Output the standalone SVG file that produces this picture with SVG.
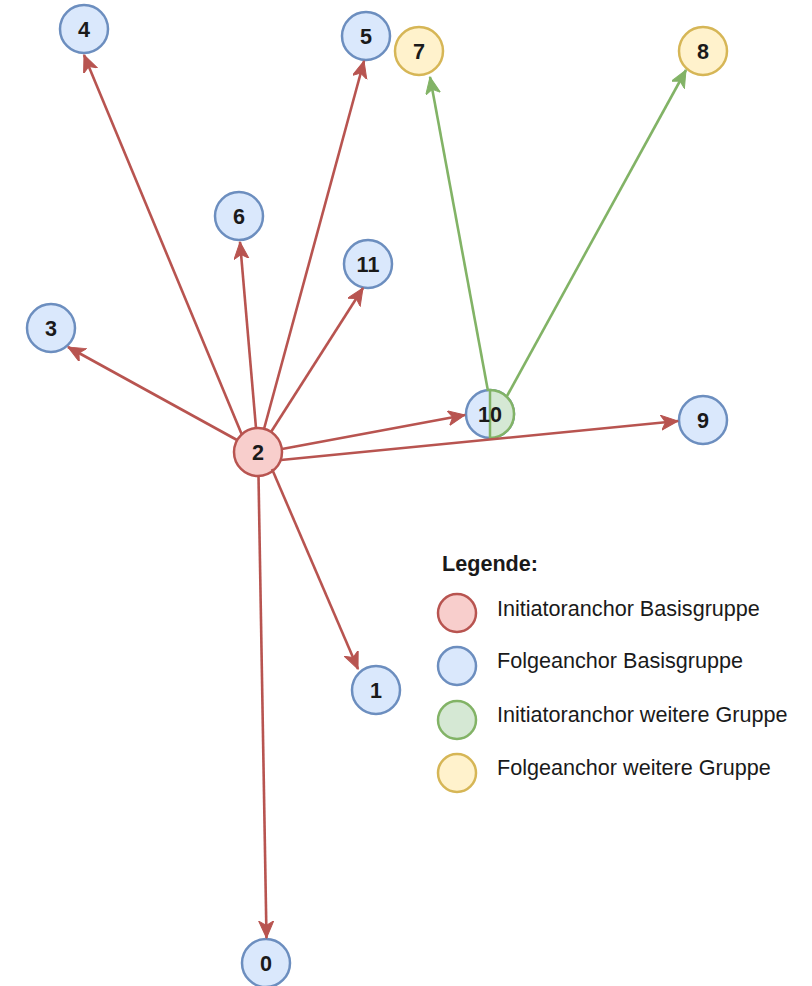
<svg xmlns="http://www.w3.org/2000/svg" width="812" height="986" viewBox="0 0 812 986">
  <style>
    .lbl { font-family: "Liberation Sans", Arial, sans-serif; font-size: 21.6px; font-weight: bold; fill: #1a1a1a; text-anchor: middle; }
    .leg { font-family: "Liberation Sans", Arial, sans-serif; font-size: 21.6px; fill: #1a1a1a; }
    .legh { font-family: "Liberation Sans", Arial, sans-serif; font-size: 21.6px; font-weight: bold; fill: #1a1a1a; }
    .red { fill: #f8cecc; stroke: #b85450; stroke-width: 2.5; }
    .blue { fill: #dae8fc; stroke: #6c8ebf; stroke-width: 2.5; }
    .green { fill: #d5e8d4; stroke: #82b366; stroke-width: 2.5; }
    .yellow { fill: #fff2cc; stroke: #d6b656; stroke-width: 2.5; }
    .e-red { stroke: #b85450; stroke-width: 2.6; fill: none; marker-end: url(#arrRed); }
    .e-green { stroke: #82b366; stroke-width: 2.6; fill: none; marker-end: url(#arrGreen); }
  </style>
  <defs>
    <marker id="arrRed" markerUnits="userSpaceOnUse" markerWidth="18" markerHeight="16" refX="17" refY="7.5" orient="auto">
      <path d="M0,0 L17,7.5 L0,15 L4.5,7.5 Z" fill="#b85450" stroke="#b85450" stroke-width="1"/>
    </marker>
    <marker id="arrGreen" markerUnits="userSpaceOnUse" markerWidth="18" markerHeight="16" refX="17" refY="7.5" orient="auto">
      <path d="M0,0 L17,7.5 L0,15 L4.5,7.5 Z" fill="#82b366" stroke="#82b366" stroke-width="1"/>
    </marker>
  </defs>
  <rect width="812" height="986" fill="#ffffff"/>

  <!-- nodes -->
  <g id="node-4"><circle class="blue" cx="84" cy="29" r="24"/><text class="lbl" x="84" y="37">4</text></g>
  <g id="node-5"><circle class="blue" cx="366" cy="36" r="24"/><text class="lbl" x="366" y="44">5</text></g>
  <g id="node-7"><circle class="yellow" cx="419" cy="51" r="24"/><text class="lbl" x="419" y="59">7</text></g>
  <g id="node-8"><circle class="yellow" cx="703" cy="51" r="24"/><text class="lbl" x="703" y="59">8</text></g>
  <g id="node-6"><circle class="blue" cx="239" cy="216" r="24"/><text class="lbl" x="239" y="224">6</text></g>
  <g id="node-11"><circle class="blue" cx="368" cy="264" r="24"/><text class="lbl" x="368" y="272">11</text></g>
  <g id="node-3"><circle class="blue" cx="51" cy="328" r="24"/><text class="lbl" x="51" y="336">3</text></g>
  <g id="node-10">
    <circle class="blue" cx="490" cy="414" r="24"/>
    <path class="green" d="M490,390 A24,24 0 0 1 490,438 Z"/>
    <text class="lbl" x="490" y="422">10</text>
  </g>
  <g id="node-9"><circle class="blue" cx="703" cy="420" r="24"/><text class="lbl" x="703" y="428">9</text></g>
  <g id="node-2"><circle class="red" cx="258" cy="452" r="24"/><text class="lbl" x="258" y="460">2</text></g>
  <g id="node-1"><circle class="blue" cx="376" cy="690" r="24"/><text class="lbl" x="376" y="698">1</text></g>
  <g id="node-0"><circle class="blue" cx="266" cy="963" r="24"/><text class="lbl" x="266" y="971">0</text></g>

  <!-- connectors -->
  <g id="connectors">
    <line class="e-red" x1="242" y1="435" x2="84" y2="55"/>
    <line class="e-red" x1="264" y1="429" x2="364" y2="61"/>
    <line class="e-red" x1="256" y1="428" x2="240" y2="242"/>
    <line class="e-red" x1="271" y1="432" x2="363" y2="288"/>
    <line class="e-red" x1="237" y1="440" x2="68" y2="347"/>
    <line class="e-red" x1="282" y1="449" x2="465" y2="415"/>
    <line class="e-red" x1="281" y1="460" x2="678" y2="421"/>
    <line class="e-red" x1="272" y1="469" x2="358" y2="669"/>
    <line class="e-red" x1="258.5" y1="476" x2="266.5" y2="938"/>
    <line class="e-green" x1="488" y1="391" x2="430" y2="77"/>
    <line class="e-green" x1="507" y1="396" x2="686" y2="70"/>
  </g>

  <!-- legend -->
  <g id="legend">
    <text class="legh" x="442" y="571">Legende:</text>
    <g id="legend-initiator-basis"><circle class="red" cx="457" cy="613" r="19"/><text class="leg" x="497" y="616">Initiatoranchor Basisgruppe</text></g>
    <g id="legend-folge-basis"><circle class="blue" cx="457" cy="666" r="19"/><text class="leg" x="497" y="668">Folgeanchor Basisgruppe</text></g>
    <g id="legend-initiator-weitere"><circle class="green" cx="457" cy="720" r="19"/><text class="leg" x="497" y="722">Initiatoranchor weitere Gruppe</text></g>
    <g id="legend-folge-weitere"><circle class="yellow" cx="457" cy="773" r="19"/><text class="leg" x="497" y="775">Folgeanchor weitere Gruppe</text></g>
  </g>
</svg>
